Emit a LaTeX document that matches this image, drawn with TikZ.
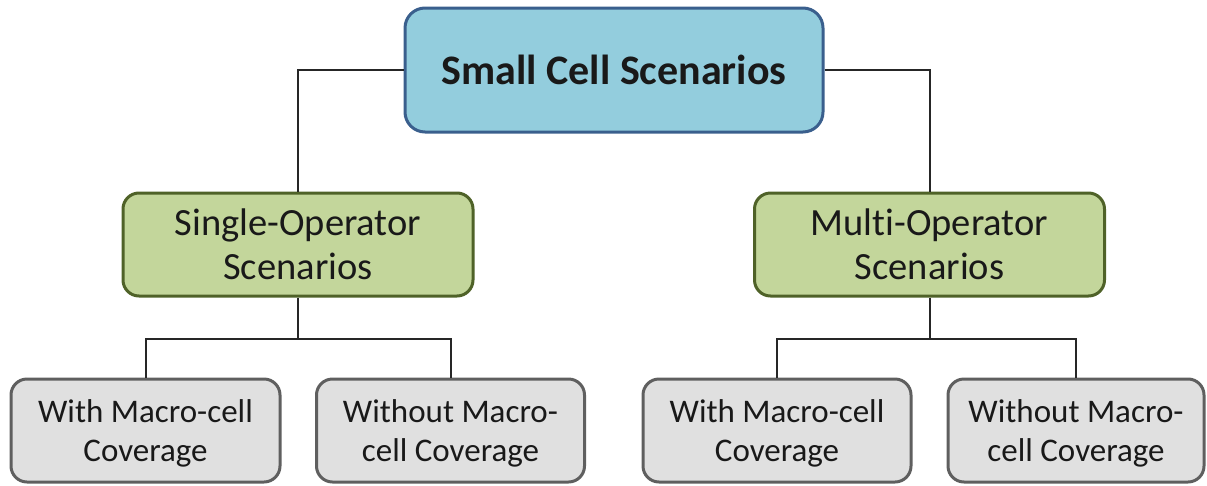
\documentclass[tikz,border=0pt]{standalone}
\usepackage{fontspec}
\setmainfont[Ligatures={NoCommon}]{Carlito}
\usetikzlibrary{calc}
\definecolor{topfill}{HTML}{93CDDD}
\definecolor{topline}{HTML}{3A5F8D}
\definecolor{midfill}{HTML}{C3D69B}
\definecolor{midline}{HTML}{4F6228}
\definecolor{leaffill}{HTML}{E0E0E0}
\definecolor{leafline}{HTML}{5F5F5F}
\definecolor{wire}{HTML}{262626}
\begin{document}
\begin{tikzpicture}[x=1pt,y=-1pt,
  box/.style={rounded corners=16pt, line width=3pt, inner sep=0pt, align=center, text=black!90},
  rootbox/.style={box, rounded corners=20pt, fill=topfill, draw=topline,
    minimum width=418pt, minimum height=124pt, font=\fontsize{42}{48}\selectfont\bfseries},
  groupbox/.style={box, fill=midfill, draw=midline,
    minimum width=350pt, minimum height=103pt, font=\fontsize{38.5}{44}\selectfont},
  leafbox/.style={box, fill=leaffill, draw=leafline, text depth=0pt,
    minimum width=268pt, minimum height=103pt, font=\fontsize{33}{39}\selectfont},
  link/.style={draw=wire, line width=2pt}]
\useasboundingbox (0,0) rectangle (1207,485);

\node[rootbox] (root) at (614,70) {Small Cell Scenarios};

\node[groupbox] (single) at (298,244.5) {Single-Operator\\Scenarios};
\node[groupbox] (multi) at (929.5,244.5) {Multi-Operator\\Scenarios};

\node[leafbox, minimum width=269pt] (s1) at (145.5,430.5) {With Macro-cell\\Coverage};
\node[leafbox] (s2) at (450.5,430.5) {Without Macro-\\cell Coverage};
\node[leafbox] (m1) at (777,430.5) {With Macro-cell\\Coverage};
\node[leafbox, minimum width=256pt] (m2) at (1076,430.5) {Without Macro-\\cell Coverage};

% root to the two scenario groups
\draw[link] (root.west) -| (single.north);
\draw[link] (root.east) -| (multi.north);

% groups to their leaves through a junction below each group
\coordinate (sj) at ($(single.south)+(0,41)$);
\coordinate (mj) at ($(multi.south)+(0,41)$);
\draw[link] (single.south) -- (sj);
\draw[link] (s1.north) |- (sj) -| (s2.north);
\draw[link] (multi.south) -- (mj);
\draw[link] (m1.north) |- (mj) -| (m2.north);
\end{tikzpicture}
\end{document}
